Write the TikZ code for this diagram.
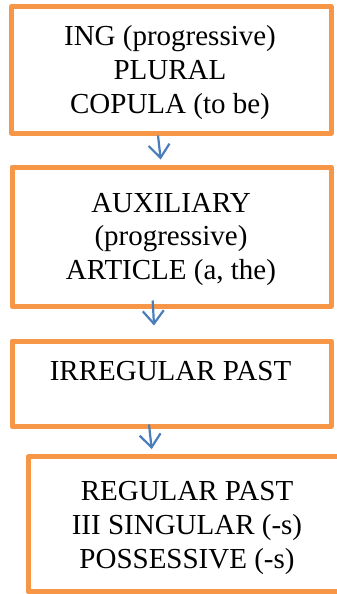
\documentclass[tikz,border=0pt]{standalone}
\usepackage{fontspec}
\setmainfont{Liberation Serif}
\usetikzlibrary{arrows.meta}
\definecolor{boxorange}{HTML}{F79646}
\definecolor{arrowblue}{HTML}{4A7EBB}
\tikzset{
  stagebox/.style={draw=boxorange, line width=5pt, line join=round, rectangle, inner sep=0pt},
  stagetext/.style={anchor=base, align=center, inner sep=0pt, font=\fontsize{29}{33.7}\selectfont, text=black},
  flowarrow/.style={draw=arrowblue, line width=2.2pt, -{Straight Barb[length=13pt,width=21pt,line width=2.2pt]}}
}
\begin{document}
\begin{tikzpicture}[x=1pt,y=-1pt]
\useasboundingbox (0,0) rectangle (337,594);
\clip (0,0) rectangle (337,594);
\node[stagebox, minimum width=319.5pt, minimum height=126.5pt] (b1) at (171.25,69.75) {};
\node[stagebox, minimum width=319pt, minimum height=139pt] (b2) at (171.5,236.5) {};
\node[stagebox, minimum width=319pt, minimum height=85.5pt] (b3) at (171.5,383.75) {};
\node[stagebox, minimum width=317pt, minimum height=134.7pt] (b4) at (186.5,524.3) {};
\node[stagetext] (t1) at (170,113) {ING (progressive)\\PLURAL\\COPULA (to be)};
\node[stagetext] (t2) at (171,279.5) {AUXILIARY\\(progressive)\\ARTICLE (a, the)};
\node[stagetext] (t3) at (170.5,380) {IRREGULAR PAST};
\node[stagetext] (t4) at (187,568) {REGULAR PAST\\III SINGULAR (-s)\\POSSESSIVE (-s)};
\draw[flowarrow] ([xshift=-13.25pt]b1.south) -- ([xshift=-10.8pt,yshift=5pt]b2.north);
\draw[flowarrow] ([xshift=-18.8pt,yshift=8pt]b2.south) -- ([xshift=-17.5pt,yshift=13pt]b3.north);
\draw[flowarrow] ([xshift=-22.5pt,yshift=4.5pt]b3.south) -- ([xshift=-34.8pt,yshift=5.3pt]b4.north);
\end{tikzpicture}
\end{document}
